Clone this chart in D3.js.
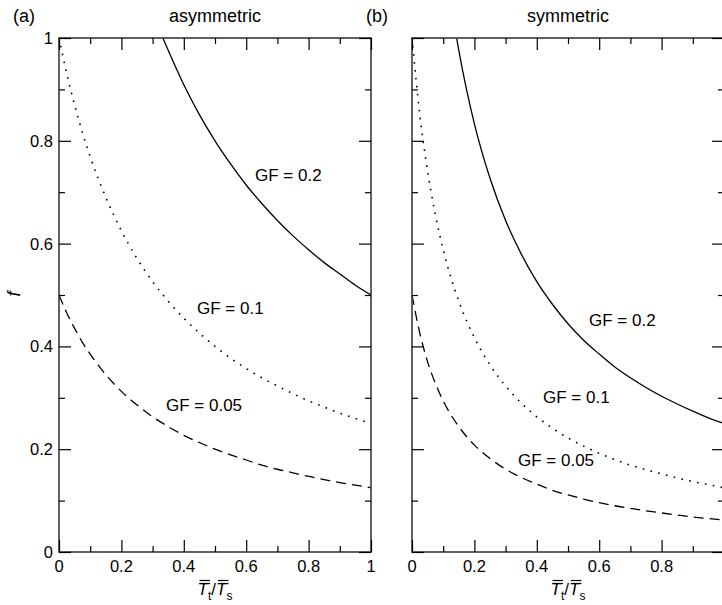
<!DOCTYPE html>
<html><head><meta charset="utf-8">
<script src="https://cdn.jsdelivr.net/npm/d3@7"></script>
<style>body{margin:0;background:#fff}svg{display:block}text{font-family:"Liberation Sans",Arial,Helvetica,sans-serif;fill:#000}</style>
</head><body><svg id="c" width="722" height="605"></svg>
<script>
// ---- data ----
const xTicks = [0, 0.2, 0.4, 0.6, 0.8, 1];
const xMinor = [0.1, 0.3, 0.5, 0.7, 0.9];
const yTicks = [0, 0.2, 0.4, 0.6, 0.8, 1];
const yMinor = [0.1, 0.3, 0.5, 0.7, 0.9];
const xTickLabelsA = ["0", "0.2", "0.4", "0.6", "0.8", "1"];
const xTickLabelsB = ["0", "0.2", "0.4", "0.6", "0.8", ""];
const yTickLabels = ["0", "0.2", "0.4", "0.6", "0.8", "1"];

const xGrid = [0, 0.025, 0.05, 0.075, 0.1, 0.15, 0.2, 0.25, 0.3, 0.35, 0.4, 0.45, 0.5, 0.55, 0.6, 0.65, 0.7, 0.75, 0.8, 0.85, 0.9, 0.95, 1.0];

// panel (a) asymmetric
const asymGF02x = [0.333, 0.35, 0.4, 0.45, 0.5, 0.55, 0.6, 0.65, 0.7, 0.75, 0.8, 0.85, 0.9, 0.95, 1.0];
const asymGF02 = [1.0, 0.976, 0.909, 0.851, 0.8, 0.755, 0.714, 0.678, 0.645, 0.615, 0.588, 0.563, 0.541, 0.519, 0.5];
const asymGF01 = [1.0, 0.930, 0.870, 0.816, 0.769, 0.690, 0.625, 0.571, 0.526, 0.488, 0.455, 0.426, 0.4, 0.377, 0.357, 0.339, 0.323, 0.308, 0.294, 0.282, 0.270, 0.260, 0.25];
const asymGF005 = [0.5, 0.465, 0.435, 0.408, 0.385, 0.345, 0.3125, 0.286, 0.263, 0.244, 0.227, 0.213, 0.2, 0.189, 0.179, 0.169, 0.161, 0.154, 0.147, 0.141, 0.135, 0.130, 0.125];

// panel (b) symmetric
const symGF02x = [0.143, 0.15, 0.175, 0.2, 0.25, 0.3, 0.35, 0.4, 0.45, 0.5, 0.55, 0.6, 0.65, 0.7, 0.75, 0.8, 0.85, 0.9, 0.95, 1.0];
const symGF02 = [1.0, 0.976, 0.899, 0.833, 0.727, 0.645, 0.580, 0.526, 0.482, 0.444, 0.412, 0.385, 0.360, 0.339, 0.32, 0.303, 0.288, 0.274, 0.261, 0.25];
const symGF01 = [1.0, 0.851, 0.741, 0.656, 0.588, 0.488, 0.417, 0.364, 0.323, 0.290, 0.263, 0.241, 0.222, 0.206, 0.192, 0.180, 0.169, 0.16, 0.152, 0.144, 0.137, 0.131, 0.125];
const symGF005 = [0.5, 0.426, 0.370, 0.328, 0.294, 0.244, 0.208, 0.182, 0.161, 0.145, 0.132, 0.120, 0.111, 0.103, 0.096, 0.090, 0.085, 0.080, 0.076, 0.072, 0.068, 0.065, 0.0625];

const panels = [
  {tag: "(a)", title: "asymmetric", x0: 59, labels: xTickLabelsA, yLabels: true,
   series: [
     {xs: asymGF02x, ys: asymGF02, style: "solid"},
     {xs: xGrid, ys: asymGF01, style: "dot"},
     {xs: xGrid, ys: asymGF005, style: "dash"}],
   notes: [{t: "GF = 0.2", x: 255, y: 181}, {t: "GF = 0.1", x: 197, y: 314}, {t: "GF = 0.05", x: 166, y: 411}]},
  {tag: "(b)", title: "symmetric", x0: 412, labels: xTickLabelsB, yLabels: false,
   series: [
     {xs: symGF02x, ys: symGF02, style: "solid"},
     {xs: xGrid, ys: symGF01, style: "dot"},
     {xs: xGrid, ys: symGF005, style: "dash"}],
   notes: [{t: "GF = 0.2", x: 589, y: 326}, {t: "GF = 0.1", x: 543, y: 403}, {t: "GF = 0.05", x: 518, y: 466}]}
];

const svg = d3.select("#c");
const W = 312, yTop = 38, yBot = 552;
const y = d3.scaleLinear().domain([0, 1]).range([yBot, yTop]);
const axisCol = "#3a3a3a";

panels.forEach(p => {
  const x = d3.scaleLinear().domain([0, 1]).range([p.x0, p.x0 + W]);
  const g = svg.append("g");

  // curves
  const line = d3.line().x(d => x(d[0])).y(d => y(d[1])).curve(d3.curveMonotoneX);
  p.series.forEach(s => {
    const pts = s.xs.map((v, i) => [v, s.ys[i]]);
    const path = g.append("path").attr("d", line(pts)).attr("fill", "none").attr("stroke", "#000");
    if (s.style === "solid") path.attr("stroke-width", 1.3);
    if (s.style === "dot") path.attr("stroke-width", 1.6).attr("stroke-dasharray", "1.6,6.4");
    if (s.style === "dash") path.attr("stroke-width", 1.3).attr("stroke-dasharray", "10,6");
  });

  // frame
  g.append("rect").attr("x", p.x0).attr("y", yTop).attr("width", W).attr("height", yBot - yTop)
    .attr("fill", "none").attr("stroke", axisCol).attr("stroke-width", 1.6);

  // ticks via axes (inward)
  const mk = (axis, tr) => {
    const a = g.append("g").attr("transform", tr).call(axis);
    a.select(".domain").remove();
    a.selectAll("line").attr("stroke", "#000").attr("stroke-width", 1.2);
    a.selectAll("text").remove();
  };
  mk(d3.axisBottom(x).tickValues(xTicks).tickSize(-12), `translate(0,${yBot})`);
  mk(d3.axisBottom(x).tickValues(xMinor).tickSize(-6), `translate(0,${yBot})`);
  mk(d3.axisTop(x).tickValues(xTicks).tickSize(-12), `translate(0,${yTop})`);
  mk(d3.axisTop(x).tickValues(xMinor).tickSize(-6), `translate(0,${yTop})`);
  mk(d3.axisLeft(y).tickValues(yTicks).tickSize(-12), `translate(${p.x0},0)`);
  mk(d3.axisLeft(y).tickValues(yMinor).tickSize(-6), `translate(${p.x0},0)`);
  mk(d3.axisRight(y).tickValues(yTicks).tickSize(-12), `translate(${p.x0 + W},0)`);
  mk(d3.axisRight(y).tickValues(yMinor).tickSize(-6), `translate(${p.x0 + W},0)`);

  // x tick labels
  g.selectAll(".xl").data(xTicks).enter().append("text")
    .attr("x", d => x(d)).attr("y", 572).attr("text-anchor", "middle")
    .attr("font-size", 16.5).text((d, i) => p.labels[i]);
  if (p.yLabels) {
    g.selectAll(".yl").data(yTicks).enter().append("text")
      .attr("x", 53).attr("y", d => y(d) + 6).attr("text-anchor", "end")
      .attr("font-size", 16.5).text((d, i) => yTickLabels[i]);
  }

  // titles
  g.append("text").attr("x", p.x0 + W / 2).attr("y", 22).attr("text-anchor", "middle")
    .attr("font-size", 18).text(p.title);
  g.append("text").attr("x", p.x0 - 46).attr("y", 22).attr("font-size", 18).text(p.tag);

  // curve annotations
  p.notes.forEach(n => g.append("text").attr("x", n.x).attr("y", n.y).attr("font-size", 17).text(n.t));

  // x axis label: T̿t / T̿s
  const cx = p.x0 + W / 2;
  const xl = g.append("text").attr("x", cx).attr("y", 595).attr("text-anchor", "middle").attr("font-size", 17);
  xl.append("tspan").attr("font-style", "italic").text("T");
  xl.append("tspan").attr("font-size", 12).attr("dy", 5).text("t");
  xl.append("tspan").attr("dy", -5).text("/");
  xl.append("tspan").attr("font-style", "italic").text("T");
  xl.append("tspan").attr("font-size", 12).attr("dy", 5).text("s");
  const node = xl.node();
  [0, 3].forEach(ci => {
    const e = node.getExtentOfChar(ci);
    [e.y + 0.5, e.y + 3.5].forEach(yy => {
      g.append("line").attr("x1", e.x + 2).attr("x2", e.x + e.width + 2)
        .attr("y1", yy).attr("y2", yy).attr("stroke", "#000").attr("stroke-width", 1.2);
    });
  });
});

// y axis label
svg.append("text").attr("transform", "translate(20,294) rotate(-90)").attr("text-anchor", "middle")
  .attr("font-size", 18).attr("font-style", "italic").text("f");
</script></body></html>
